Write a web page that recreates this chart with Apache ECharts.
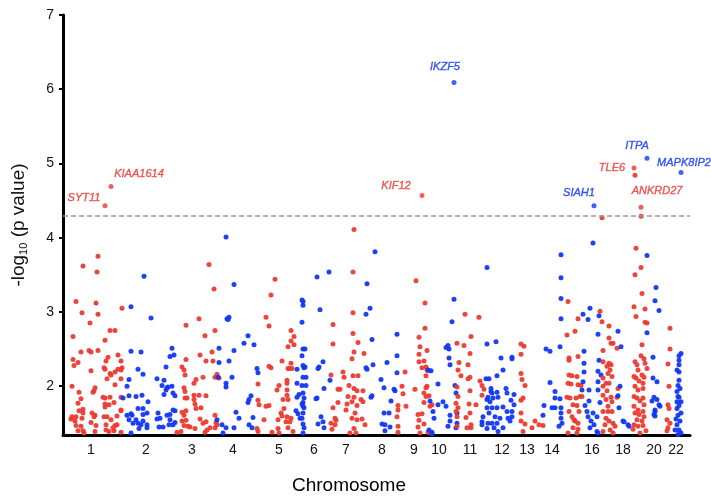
<!DOCTYPE html>
<html>
<head>
<meta charset="utf-8">
<script src="https://cdn.jsdelivr.net/npm/echarts@6/dist/echarts.min.js"></script>
<style>
  html, body { margin: 0; padding: 0; background: #fff; }
  #main { width: 711px; height: 500px; }
</style>
</head>
<body>
<div id="main"></div>
<script>
// cumulative genome position (arbitrary units) and -log10(p) per chromosome
const chr1 = [[98,3.75],[83,3.62],[97,3.54],[122,3.05],[76,3.14],[96,3.12],[82,2.99],[98,2.97],[90,2.85],[110,2.75],[115,2.75],[73,2.67],[105,2.62],[81,2.46],[89,2.48],[91,2.46],[98,2.48],[118,2.42],[108,2.39],[106,2.34],[121,2.34],[73,2.36],[78,2.32],[74,2.28],[105,2.23],[104,2.25],[110,2.17],[115,2.19],[121,2.22],[122,2.25],[118,2.23],[91,2.21],[72,2.00],[121,2.10],[115,2.02],[107,2.10],[111,2.15],[95,1.98],[94,1.94],[93,1.92],[79,1.92],[81,1.83],[78,1.77],[103,1.85],[105,1.84],[110,1.85],[105,1.76],[121,1.85],[114,1.78],[109,1.75],[105,1.72],[121,1.67],[79,1.67],[83,1.69],[83,1.64],[76,1.59],[82,1.57],[72,1.59],[71,1.56],[75,1.53],[76,1.47],[81,1.46],[83,1.40],[84,1.37],[78,1.40],[92,1.64],[95,1.61],[94,1.59],[91,1.51],[95,1.39],[96,1.47],[104,1.59],[107,1.59],[111,1.55],[106,1.48],[106,1.41],[109,1.39],[113,1.44],[117,1.60],[121,1.68],[117,1.48],[115,1.47],[121,1.38],[114,1.40]];
const chr2 = [[144,3.48],[131,3.07],[151,2.92],[131,2.47],[141,2.46],[172,2.51],[170,2.40],[174,2.42],[138,2.23],[143,2.16],[166,2.26],[157,2.10],[164,2.08],[162,2.01],[167,1.98],[166,1.95],[168,1.99],[172,2.00],[164,1.89],[173,1.91],[175,1.87],[129,2.09],[127,2.00],[123,1.84],[129,1.87],[136,1.86],[142,1.88],[148,1.79],[138,1.70],[143,1.70],[147,1.64],[143,1.62],[158,1.64],[160,1.57],[167,1.61],[170,1.62],[173,1.68],[175,1.67],[170,1.55],[173,1.48],[175,1.51],[169,1.48],[163,1.45],[159,1.45],[157,1.56],[127,1.61],[131,1.63],[132,1.61],[129,1.55],[133,1.50],[138,1.50],[141,1.48],[136,1.55],[143,1.53],[147,1.48],[147,1.44],[131,1.37],[139,1.43]];
const chr3 = [[209,3.64],[214,3.31],[186,2.82],[199,2.91],[215,2.75],[205,2.68],[200,2.42],[212,2.46],[206,2.34],[213,2.34],[186,2.36],[182,2.26],[184,2.22],[185,2.15],[203,2.12],[196,2.09],[194,2.04],[215,2.12],[217,2.16],[219,2.11],[184,1.98],[185,1.93],[185,1.84],[187,1.84],[194,1.88],[194,1.82],[195,1.76],[199,1.88],[206,1.87],[201,1.71],[196,1.70],[182,1.65],[186,1.67],[184,1.61],[182,1.53],[186,1.54],[184,1.47],[188,1.46],[177,1.38],[181,1.39],[190,1.45],[195,1.43],[200,1.56],[203,1.50],[206,1.52],[205,1.38],[207,1.41],[215,1.61],[216,1.51],[217,1.48],[210,1.44],[215,1.44]];
const chr4 = [[226,4.01],[234,3.37],[227,2.91],[229,2.93],[228,2.90],[248,2.68],[244,2.58],[254,2.56],[219,2.51],[234,2.48],[219,2.32],[229,2.34],[257,2.24],[258,2.18],[226,2.04],[226,1.99],[232,2.12],[218,2.12],[217,1.55],[222,1.48],[223,1.37],[226,1.44],[234,1.44],[236,1.65],[239,1.57],[248,1.78],[251,1.87],[249,1.82],[253,1.58],[249,1.48],[252,1.44]];
const chr5 = [[275,3.44],[271,3.23],[266,2.93],[269,2.81],[269,2.27],[271,2.25],[258,2.03],[258,1.81],[259,1.75],[257,1.43],[258,1.39],[266,1.73],[269,1.74],[264,1.55],[272,1.38],[279,1.37],[278,1.43],[291,2.75],[294,2.67],[291,2.61],[288,2.53],[294,2.56],[282,2.34],[291,2.31],[288,2.24],[290,2.24],[292,2.24],[287,2.08],[287,2.04],[279,2.01],[277,1.95],[287,1.95],[283,1.82],[287,1.88],[288,1.82],[284,1.70],[281,1.64],[282,1.60],[278,1.55],[287,1.59],[286,1.52],[290,1.52],[291,1.57],[288,1.44],[293,1.39]];
const chr6 = [[302,3.16],[303,3.14],[303,3.09],[302,2.86],[303,2.50],[302,2.41],[303,2.28],[304,2.25],[303,2.12],[302,2.01],[303,1.91],[304,1.84],[303,1.78],[302,1.76],[303,1.73],[304,1.71],[303,1.64],[302,1.57],[303,1.49],[304,1.44],[303,1.37],[305,2.50],[305,2.26],[306,2.12],[306,2.01],[297,2.23],[297,2.04],[299,1.89],[297,1.85],[296,1.67],[298,1.63],[300,1.57],[320,3.03],[317,3.47],[329,3.54],[319,2.26],[318,2.24],[323,2.33],[330,2.08],[324,1.97],[317,1.84],[316,1.83],[321,1.59],[323,1.52],[318,1.49],[324,1.44]];
const chr7 = [[354,4.11],[353,3.54],[333,2.83],[333,2.57],[331,2.15],[343,2.19],[344,2.12],[338,1.96],[340,1.96],[333,1.71],[338,1.78],[335,1.57],[336,1.54],[335,1.48],[331,1.50],[332,1.42],[353,2.99],[353,2.71],[358,2.59],[354,2.46],[352,2.37],[358,2.14],[353,2.14],[349,2.01],[354,1.97],[357,1.94],[363,1.94],[348,1.86],[354,1.85],[352,1.79],[357,1.74],[361,1.82],[363,1.79],[347,1.76],[346,1.68],[355,1.64],[352,1.57],[357,1.55],[362,1.56],[365,1.48],[354,1.43],[356,1.37],[350,1.37],[364,2.44]];
const chr8 = [[375,3.81],[367,3.38],[366,2.97],[370,3.05],[372,2.63],[366,2.25],[367,2.23],[373,2.29],[371,1.85],[372,1.87],[381,2.09],[384,1.98],[387,2.32],[391,1.80],[394,1.96],[395,1.94],[397,2.70],[397,2.41],[397,2.18],[385,1.48],[385,1.40],[390,1.45],[382,1.49],[384,1.64],[389,1.64]];
const chr9 = [[416,3.42],[398,1.74],[398,1.68],[397,1.59],[398,1.46],[398,1.38],[406,1.73],[405,2.19],[402,2.00],[403,1.90],[425,3.12],[425,2.78],[419,2.66],[420,2.53],[427,2.48],[419,2.43],[419,2.33],[424,2.34],[426,2.26],[422,2.25],[427,2.22],[429,2.21],[426,2.14],[427,2.00],[415,1.96],[426,1.98],[424,1.91],[429,1.87],[426,1.86],[424,1.78],[432,1.75],[430,1.73],[418,1.62],[422,1.63],[419,1.54],[424,1.49],[418,1.45],[420,1.37],[428,1.38],[431,1.37]];
const chr10 = [[428,2.22],[431,2.21],[430,1.80],[433,1.66],[434,1.57],[429,1.41],[432,1.38],[432,1.36],[438,2.03],[438,1.75],[443,1.79],[446,1.73],[448,2.55],[446,2.52],[449,2.50],[449,2.38],[450,2.29],[454,3.17],[452,2.87],[455,2.01],[456,1.91],[450,1.61],[450,1.53],[448,1.46],[457,1.50],[456,1.44],[457,1.64]];
const chr11 = [[465,2.97],[457,2.58],[459,2.32],[458,2.22],[461,2.14],[457,1.99],[458,1.86],[456,1.77],[458,1.71],[456,1.66],[457,1.59],[457,1.46],[466,1.58],[467,1.44],[471,2.67],[470,2.44],[468,2.29],[470,2.12],[468,2.10],[470,1.94],[469,1.76],[470,1.64],[471,1.48],[471,1.44],[464,2.55],[479,2.93],[476,1.75],[480,2.07],[482,2.01],[484,1.96],[482,1.88]];
const chr12 = [[487,3.60],[487,2.57],[486,2.10],[489,2.10],[488,1.85],[487,1.82],[490,1.79],[491,1.93],[487,1.71],[489,1.64],[483,1.59],[488,1.50],[482,1.52],[482,1.48],[487,1.43],[496,2.60],[501,2.38],[503,2.22],[497,2.14],[491,1.97],[492,1.91],[497,1.92],[493,1.84],[498,1.85],[492,1.71],[497,1.71],[503,1.72],[506,1.97],[507,1.91],[511,1.81],[514,1.89],[507,1.66],[512,1.66],[512,1.59],[508,1.57],[500,1.57],[495,1.59],[497,1.50],[492,1.50],[494,1.44],[503,1.44],[498,1.39],[510,1.53],[512,2.39],[512,2.37],[514,1.75]];
const chr13 = [[521,2.57],[524,2.54],[521,2.43],[521,2.17],[522,2.09],[525,2.01],[523,1.84],[521,1.81],[521,1.64],[521,1.53],[525,1.49],[523,1.39],[532,1.44],[535,1.53],[539,1.48],[543,1.47]];
const chr14 = [[561,3.77],[561,3.46],[561,3.18],[561,2.91],[544,1.74],[543,1.61],[546,2.50],[550,2.47],[550,2.05],[552,1.71],[555,1.93],[555,1.84],[555,1.71],[560,2.53],[560,1.83],[561,1.71],[561,1.64],[561,1.57],[562,1.50],[559,1.46]];
const chr15 = [[568,3.14],[567,2.69],[569,2.38],[569,2.35],[575,2.74],[578,2.91],[578,2.40],[569,2.15],[572,2.14],[568,2.04],[571,2.03],[577,2.13],[578,2.02],[570,1.84],[567,1.85],[576,1.84],[580,1.86],[582,1.86],[573,1.75],[577,1.74],[569,1.66],[579,1.66],[572,1.59],[575,1.53],[578,1.50],[573,1.44],[578,1.42],[577,1.37],[568,1.37],[581,2.01],[574,1.55]];
const chr16 = [[593,3.93],[583,2.97],[588,2.90],[590,3.05],[599,2.95],[598,2.70],[584,2.47],[584,2.31],[584,2.19],[583,2.06],[582,1.95],[589,1.95],[585,1.74],[589,1.80],[587,1.66],[588,1.59],[591,1.53],[593,1.64],[597,1.59],[594,1.48],[590,1.44],[597,1.39],[598,1.37],[598,2.20],[599,2.35],[598,2.06],[598,1.95],[600,1.78],[601,2.15]];
const chr17 = [[602,4.27],[600,3.01],[602,2.87],[609,2.81],[609,2.65],[611,2.58],[613,2.58],[617,2.51],[603,2.48],[603,2.33],[609,2.31],[611,2.29],[607,2.27],[610,2.22],[608,2.17],[612,2.13],[603,2.11],[606,2.04],[609,2.04],[603,2.00],[607,1.94],[603,1.88],[611,1.85],[617,1.85],[606,1.82],[612,1.79],[608,1.73],[603,1.66],[608,1.66],[612,1.66],[606,1.57],[609,1.53],[613,1.50],[605,1.48],[615,1.46],[610,1.41],[603,1.39],[613,1.37],[618,1.97]];
const chr18 = [[618,2.74],[621,2.53],[620,2.00],[618,1.87],[619,1.71],[623,1.53],[628,1.48],[624,1.52],[629,1.46]];
const chr19 = [[635,4.84],[641,4.29],[636,3.86],[641,3.60],[635,3.50],[642,3.25],[634,3.07],[636,2.94],[645,3.04],[645,2.86],[647,2.85],[642,2.56],[641,2.41],[644,2.37],[645,2.31],[647,2.24],[635,2.33],[637,2.29],[638,2.22],[634,2.13],[636,2.11],[642,2.15],[644,2.12],[639,2.07],[643,2.04],[643,1.97],[635,2.00],[638,1.95],[634,1.86],[637,1.84],[643,1.84],[640,1.80],[644,1.75],[634,1.73],[638,1.68],[643,1.66],[635,1.64],[639,1.62],[644,1.59],[637,1.55],[642,1.53],[634,1.48],[638,1.46],[643,1.47],[633,1.42],[646,1.40],[640,1.37]];
const chr20 = [[647,3.76],[656,3.33],[655,3.15],[659,3.02],[647,2.72],[653,2.39],[653,2.11],[657,2.06],[654,1.85],[659,1.75],[660,1.73],[655,1.66],[654,1.62],[657,1.82],[652,1.80],[655,1.68],[655,1.60]];
const chr21 = [[670,2.78],[670,2.50],[668,2.30],[669,2.00],[668,1.75],[669,1.70],[667,1.55],[670,1.50],[668,1.44],[667,1.40]];
const chr22 = [[681,2.44],[679,2.41],[679,2.35],[679,2.29],[677,2.22],[679,2.19],[679,2.08],[678,2.01],[680,1.97],[677,1.93],[678,1.86],[679,1.85],[677,1.79],[681,1.79],[679,1.74],[677,1.70],[681,1.64],[678,1.61],[676,1.56],[680,1.53],[677,1.48],[679,1.41],[675,1.41],[681,1.37],[678,1.35]];

// labelled top hits
const hitGenes = ['SYT11', 'KIAA1614', 'KIF12', 'IKZF5', 'SIAH1', 'TLE6', 'ITPA', 'MAPK8IP2', 'ANKRD27'];
const hitChrom = [1, 1, 9, 10, 16, 19, 20, 22, 19];
const hitPos = [105, 111, 422, 454, 594, 634, 647, 681, 641];
const hitVal = [4.43, 4.69, 4.57, 6.09, 4.43, 4.94, 5.07, 4.88, 4.41];

// axis ticks
const chromLabels = ['1','2','3','4','5','6','7','8','9','10','11','12','13','14','16','18','20','22'];
const chromLabelPos = [91, 146, 192, 233, 279, 314, 346, 382, 414, 439, 470, 502, 527, 552, 592, 623, 654, 676];
const yTicks = [2, 3, 4, 5, 6, 7];
const threshold = 4.3;

const chroms = [chr1, chr2, chr3, chr4, chr5, chr6, chr7, chr8, chr9, chr10, chr11,
  chr12, chr13, chr14, chr15, chr16, chr17, chr18, chr19, chr20, chr21, chr22];

const RED = '#eb3b32';
const BLUE = '#1238f2';
const colorOf = (c) => (c % 2 === 1 ? RED : BLUE);

// where each gene name sits relative to its dot (label centre minus dot centre)
const labelOffset = {
  SYT11: [-21, -9], KIAA1614: [28, -14], KIF12: [-26, -10], IKZF5: [-9, -17],
  SIAH1: [-15, -14], TLE6: [-22, -1], ITPA: [-10, -13], MAPK8IP2: [3, -10], ANKRD27: [16, -17]
};

let series = chroms.map((d, i) => ({
  name: 'chr' + (i + 1),
  type: 'scatter',
  symbolSize: 5,
  data: d,
  itemStyle: { color: colorOf(i + 1), opacity: 0.95 },
  silent: true
}));

series.push({
  name: 'hits',
  type: 'scatter',
  symbolSize: 5,
  clip: false,
  silent: true,
  data: hitGenes.map((g, i) => ({
    name: g,
    value: [hitPos[i], hitVal[i]],
    itemStyle: { color: colorOf(hitChrom[i]) }
  })),
  label: {
    show: true,
    position: 'top',
    distance: 0,
    formatter: '{b}',
    fontStyle: 'italic',
    fontSize: 11,
    fontFamily: 'Arial, Liberation Sans'
  },
  markLine: {
    silent: true,
    symbol: 'none',
    label: { show: false },
    lineStyle: { color: '#9a9a9a', width: 1.5, type: [5, 3] },
    data: [{ yAxis: threshold }]
  }
});
// per-gene label placement and colour
series[series.length - 1].data.forEach((d, i) => {
  const off = labelOffset[d.name];
  const c = colorOf(hitChrom[i]);
  d.label = { offset: [off[0], off[1] + 9], color: c, textBorderColor: c, textBorderWidth: 0.4 };
});

let option = {
  animation: false,
  textStyle: { fontFamily: 'Liberation Sans' },
  grid: { left: 63, right: 21, top: 15, bottom: 63 },
  xAxis: {
    type: 'value',
    min: 63,
    max: 690,
    name: 'Chromosome',
    nameLocation: 'middle',
    nameGap: 41,
    nameTextStyle: { fontSize: 19, color: '#000', padding: [0, 55, 0, 0] },
    splitLine: { show: false },
    axisLine: { lineStyle: { color: '#000', width: 3 } },
    axisTick: { show: false },
    axisLabel: {
      customValues: chromLabelPos,
      formatter: (v) => chromLabels[chromLabelPos.indexOf(v)],
      fontSize: 14,
      color: '#111',
      margin: 8
    }
  },
  yAxis: {
    type: 'value',
    min: 1.343,
    max: 7,
    name: '-log{sub|10} (p value)',
    nameLocation: 'middle',
    nameGap: 34,
    nameTextStyle: {
      fontSize: 19,
      color: '#111',
      rich: { sub: { fontSize: 11, padding: [10, 0, 0, 0], color: '#111' } }
    },
    splitLine: { show: false },
    axisLine: { show: true, lineStyle: { color: '#000', width: 3 } },
    axisTick: { show: true, customValues: yTicks, length: 4, lineStyle: { color: '#000', width: 2 } },
    axisLabel: { customValues: yTicks, fontSize: 14, color: '#111', margin: 9 }
  },
  series: series
};

let myChart = echarts.init(document.getElementById('main'));
myChart.setOption(option);
</script>
</body>
</html>
